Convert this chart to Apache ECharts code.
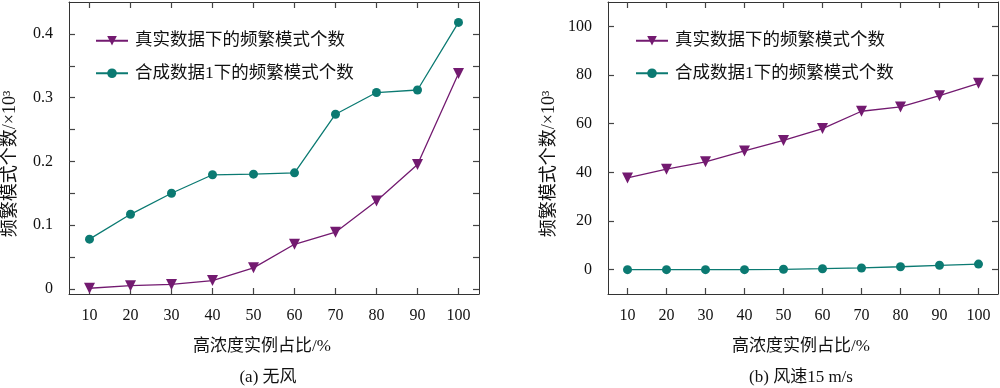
<!DOCTYPE html>
<html>
<head>
<meta charset="utf-8">
<script src="https://cdn.jsdelivr.net/npm/echarts@6/dist/echarts.min.js"></script>
<style>
html,body{margin:0;padding:0;background:#fff;}
#chart{width:1000px;height:388px;}
</style>
</head>
<body>
<div id="chart"></div>
<script>
// ---- data ----
const categories = ['10','20','30','40','50','60','70','80','90','100'];
const seriesNames = ['真实数据下的频繁模式个数', '合成数据1下的频繁模式个数'];
// (a) 无风
const realA = [0.001, 0.005, 0.007, 0.013, 0.033, 0.070, 0.089, 0.138, 0.195, 0.338];
const synA  = [0.078, 0.117, 0.150, 0.179, 0.180, 0.182, 0.274, 0.308, 0.312, 0.418];
// (b) 风速15 m/s
const realB = [37.7, 41.3, 44.3, 48.8, 53.1, 58.0, 65.1, 66.9, 71.5, 76.6];
const synB  = [0, 0, 0, 0, 0.15, 0.4, 0.7, 1.2, 1.8, 2.3];
// tick values
const yTicksA  = [0, 0.05, 0.1, 0.15, 0.2, 0.25, 0.3, 0.35, 0.4];
const yLabelsA = [0, 0.1, 0.2, 0.3, 0.4];
const yTicksB  = [0, 20, 40, 60, 80, 100];
const yLabelsB = [0, 20, 40, 60, 80, 100];
const yTitle = '频繁模式个数/×10³';
const xTitle = '高浓度实例占比/%';
const captionA = '(a) 无风';
const captionB = '(b) 风速15 m/s';

// ---- styles ----
const FONT = '"Liberation Serif", "Noto Sans CJK SC", serif';
const PURPLE = '#731a70';
const TEAL = '#0b7a72';
const AXIS = '#333';
const TICK = '#444';

function xAx(grid, pos) {
  const main = pos === 'bottom';
  return {
    type: 'category', gridIndex: grid, position: pos, data: categories,
    boundaryGap: true,
    axisLine: {show: true, onZero: false, lineStyle: {color: AXIS, width: 1}},
    axisTick: {show: true, inside: true, alignWithLabel: true, interval: 0, length: 6, lineStyle: {color: TICK, width: 1.2}},
    axisLabel: {show: true, interval: 0, margin: 14, fontSize: 16, fontFamily: FONT, color: '#111',
                formatter: main ? null : function () { return ''; }},
    splitLine: {show: false}
  };
}
function yAx(grid, pos, min, max, ticks, labels) {
  const main = pos === 'left';
  return {
    type: 'value', gridIndex: grid, position: pos, min: min, max: max,
    axisLine: {show: true, onZero: false, lineStyle: {color: AXIS, width: 1}},
    axisTick: {show: true, inside: true, length: 6, lineStyle: {color: TICK, width: 1.2}, customValues: ticks},
    axisLabel: {show: true, margin: 16, fontSize: 16, fontFamily: FONT, color: '#111', customValues: labels,
                formatter: main ? null : function () { return ''; }},
    splitLine: {show: false}
  };
}
function lineSeries(name, data, xi, yi, color, symbol) {
  return {
    name: name, type: 'line', data: data, xAxisIndex: xi, yAxisIndex: yi,
    symbol: symbol, symbolRotate: symbol === 'triangle' ? 180 : 0,
    symbolSize: symbol === 'triangle' ? 11 : 9,
    itemStyle: {color: color},
    lineStyle: {color: color, width: 1.3},
    emphasis: {disabled: true},
    animation: false
  };
}
function legend(left, top) {
  return {
    left: left, top: top, orient: 'vertical',
    itemWidth: 32, itemHeight: 12, itemGap: 15,
    data: seriesNames,
    selectedMode: false,
    textStyle: {fontSize: 17.5, fontFamily: FONT, color: '#111', padding: [0, 0, 0, 2]}
  };
}
function txt(x, y, text, rot, size) {
  return {
    type: 'text', x: x, y: y, rotation: rot || 0,
    style: {text: text, fontSize: size || 17, fontFamily: FONT, fill: '#111', align: 'center', verticalAlign: 'middle'}
  };
}

const chart = echarts.init(document.getElementById('chart'), null, {renderer: 'canvas'});
chart.setOption({
  backgroundColor: '#fff',
  animation: false,
  grid: [
    {left: 69, right: 521, top: 2, bottom: 94, outerBoundsMode: 'none'},
    {left: 608, right: 2, top: 2, bottom: 94, outerBoundsMode: 'none'}
  ],
  xAxis: [xAx(0, 'bottom'), xAx(0, 'top'), xAx(1, 'bottom'), xAx(1, 'top')],
  yAxis: [
    yAx(0, 'left', -0.008, 0.45, yTicksA, yLabelsA),
    yAx(0, 'right', -0.008, 0.45, yTicksA, yLabelsA),
    yAx(1, 'left', -10, 110, yTicksB, yLabelsB),
    yAx(1, 'right', -10, 110, yTicksB, yLabelsB)
  ],
  legend: [legend(90, 27), legend(630, 27)],
  series: [
    lineSeries(seriesNames[0], realA, 0, 0, PURPLE, 'triangle'),
    lineSeries(seriesNames[1], synA, 0, 0, TEAL, 'circle'),
    lineSeries(seriesNames[0], realB, 2, 2, PURPLE, 'triangle'),
    lineSeries(seriesNames[1], synB, 2, 2, TEAL, 'circle')
  ],
  graphic: [
    txt(10, 164, yTitle, Math.PI / 2, 18),
    txt(549, 164, yTitle, Math.PI / 2, 18),
    txt(262, 347, xTitle),
    txt(801, 347, xTitle),
    txt(268, 378, captionA),
    txt(801, 378, captionB)
  ]
});
</script>
</body>
</html>
